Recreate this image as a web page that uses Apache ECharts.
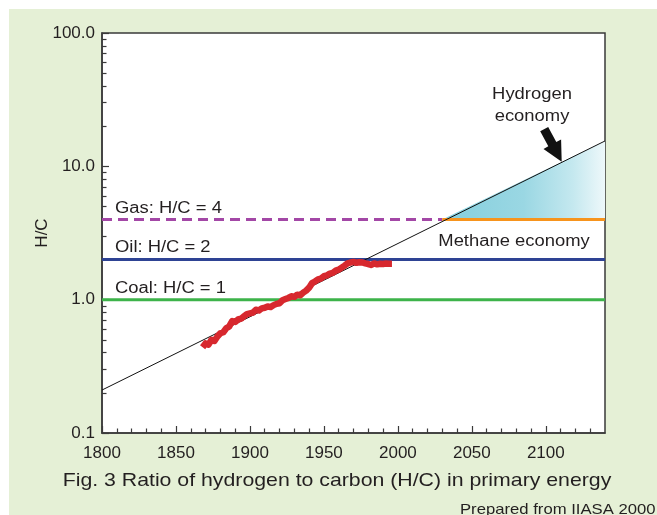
<!DOCTYPE html>
<html>
<head>
<meta charset="utf-8">
<script src="https://cdn.jsdelivr.net/npm/echarts@6/dist/echarts.min.js"></script>
<style>html,body{margin:0;padding:0;background:#fff}#c{width:657px;height:515px}</style>
</head>
<body>
<div id="c"></div>
<script>
// Historical H/C ratio
const years = [1868,1870,1872,1874,1876,1878,1880,1882,1884,1886,1888,1890,1892,1894,1896,1898,1900,1902,1904,1906,1908,1910,1912,1914,1916,1918,1920,1922,1924,1926,1928,1930,1932,1934,1936,1938,1940,1942,1944,1946,1948,1950,1952,1954,1956,1958,1960,1962,1964,1966,1968,1970,1972,1974,1976,1978,1980,1982,1984,1986,1988,1990,1992,1994,1996];
const hcValues = [0.44,0.47,0.46,0.50,0.49,0.53,0.56,0.57,0.61,0.63,0.69,0.68,0.71,0.72,0.75,0.78,0.79,0.80,0.84,0.83,0.86,0.87,0.89,0.88,0.91,0.93,0.94,0.99,1.01,1.03,1.06,1.05,1.09,1.08,1.13,1.17,1.23,1.33,1.37,1.42,1.44,1.50,1.52,1.57,1.59,1.65,1.68,1.74,1.80,1.87,1.90,1.92,1.89,1.91,1.90,1.87,1.85,1.82,1.87,1.84,1.86,1.85,1.87,1.86,1.86];
// Long-term trend line
const trendYears = [1800, 2140];
const trendHC = [0.21, 15.5];
// Fuel reference levels
const coalHC = 1, oilHC = 2, gasHC = 4;
const xStart = 1800, xEnd = 2140, methaneStartYear = 2030;
// Hydrogen economy wedge
const wedge = [[2030, 4], [2140, 15.5], [2140, 4]];
// Axis ticks
const xMajorTicks = [1800,1850,1900,1950,2000,2050,2100];
const xMinorTicks = [1810,1820,1830,1840,1860,1870,1880,1890,1910,1920,1930,1940,1960,1970,1980,1990,2010,2020,2030,2040,2060,2070,2080,2090,2110,2120,2130];
const yMajorTicks = [0.1, 1, 10, 100];
const yMinorTicks = [0.2,0.3,0.4,0.5,0.6,0.7,0.8,0.9,2,3,4,5,6,7,8,9,20,30,40,50,60,70,80,90];

const FONT = '"Liberation Sans", Arial, sans-serif';
const TXT = '#231f20';
const SX = 1.15; // horizontal stretch of the reference lettering
const chart = echarts.init(document.getElementById('c'), null, {renderer: 'canvas'});

const xCommon = {type: 'value', min: xStart, max: xEnd, position: 'bottom', splitLine: {show: false}};
const yCommon = {type: 'log', min: 0.1, max: 100, position: 'left', splitLine: {show: false}};

function label(text, x, y, size, align) {
  return {type: 'text', x: x, y: y, scaleX: SX, z: 50,
    style: {text: text, font: size + 'px ' + FONT, fill: TXT, align: align || 'left', verticalAlign: 'middle', lineHeight: 22}};
}

const option = {
  backgroundColor: '#ffffff',
  animation: false,
  graphic: [
    {type: 'rect', z: -10, left: 9, top: 9, shape: {width: 648, height: 506}, style: {fill: '#e5f0d6'}},
    label('Gas: H/C = 4', 115, 208.5, 16),
    label('Oil: H/C = 2', 115, 248, 16),
    label('Coal: H/C = 1', 115, 289, 16),
    label('Hydrogen\neconomy', 532, 106, 16, 'center'),
    label('Methane economy', 514, 242, 16, 'center'),
    label('Fig. 3 Ratio of hydrogen to carbon (H/C) in primary energy', 337, 481, 18.5, 'center'),
    label('Prepared from IIASA 2000', 460, 509.5, 14.5),
    {type: 'polygon', z: 60, shape: {points: [[548.2,127.1],[556.3,142.1],[561.1,139.5],[561.7,161.7],[543.5,148.9],[548.3,146.3],[540.2,131.3]]}, style: {fill: '#111'}}
  ],
  grid: {left: 102, top: 33, right: 52, bottom: 82, show: true, backgroundColor: '#ffffff', borderColor: '#3a3a3a', borderWidth: 1.5, containLabel: false},
  xAxis: [
    Object.assign({}, xCommon, {
      axisLine: {show: true, onZero: false, lineStyle: {color: '#3a3a3a', width: 1.5}},
      axisTick: {show: true, inside: true, length: 7, customValues: xMajorTicks, lineStyle: {color: '#3a3a3a', width: 1.2}},
      axisLabel: {show: true, customValues: xMajorTicks, margin: 12, fontSize: 17, fontFamily: FONT, color: TXT,
        formatter: v => String(v)}
    }),
    Object.assign({}, xCommon, {
      axisLine: {show: false, onZero: false},
      axisTick: {show: true, inside: true, length: 4.5, customValues: xMinorTicks, lineStyle: {color: '#3a3a3a', width: 1.2}},
      axisLabel: {show: false}
    })
  ],
  yAxis: [
    Object.assign({}, yCommon, {
      name: 'H/C', nameLocation: 'middle', nameGap: 51, nameRotate: 90, nameMoveOverlap: false,
      nameTextStyle: {fontSize: 17, fontFamily: FONT, color: TXT},
      axisLine: {show: true, lineStyle: {color: '#3a3a3a', width: 1.5}},
      axisTick: {show: true, inside: true, length: 7, customValues: yMajorTicks, lineStyle: {color: '#3a3a3a', width: 1.2}},
      axisLabel: {show: true, customValues: yMajorTicks, margin: 7, fontSize: 17, fontFamily: FONT, color: TXT,
        formatter: v => Number(v).toFixed(1)}
    }),
    Object.assign({}, yCommon, {
      axisLine: {show: false},
      axisTick: {show: true, inside: true, length: 4.5, customValues: yMinorTicks, lineStyle: {color: '#3a3a3a', width: 1.2}},
      axisLabel: {show: false}
    })
  ],
  series: [
    {
      type: 'custom', name: 'Hydrogen economy', coordinateSystem: 'cartesian2d', z: 1,
      data: [0],
      renderItem: function (params, api) {
        const pts = wedge.map(p => api.coord(p));
        return {
          type: 'polygon', shape: {points: pts},
          style: {fill: new echarts.graphic.LinearGradient(0, 0, 1, 0, [
            {offset: 0, color: '#84cfdd'}, {offset: 0.5, color: '#9ad7e3'}, {offset: 0.8, color: '#c4e8ef'}, {offset: 1, color: '#eef8fa'}
          ])}
        };
      }
    },
    {type: 'line', name: 'Coal', data: [[xStart, coalHC], [xEnd, coalHC]], symbol: 'none', lineStyle: {color: '#3db34a', width: 3}, z: 3},
    {type: 'line', name: 'Oil', data: [[xStart, oilHC], [xEnd, oilHC]], symbol: 'none', lineStyle: {color: '#2e4394', width: 3}, z: 3},
    {type: 'line', name: 'Gas', data: [[xStart, gasHC], [methaneStartYear, gasHC]], symbol: 'none', lineStyle: {color: '#a347a6', width: 3, type: [10, 6]}, z: 3},
    {type: 'line', name: 'Methane', data: [[methaneStartYear, gasHC], [xEnd, gasHC]], symbol: 'none', lineStyle: {color: '#f7941d', width: 3}, z: 3},
    {type: 'line', name: 'Trend', data: trendYears.map((y, i) => [y, trendHC[i]]), symbol: 'none', lineStyle: {color: '#111', width: 1}, z: 4},
    {type: 'line', name: 'H/C', data: years.map((y, i) => [y, hcValues[i]]), symbol: 'none', lineStyle: {color: '#d7282e', width: 6.5, join: 'round', cap: 'butt'}, z: 5}
  ]
};
chart.setOption(option);
</script>
</body>
</html>
